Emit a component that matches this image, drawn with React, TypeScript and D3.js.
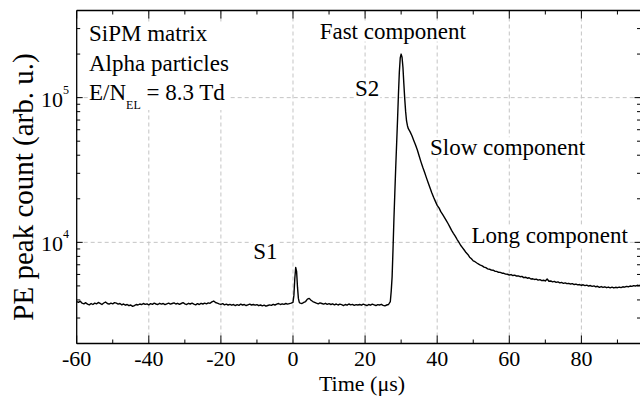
import React, { useEffect, useRef } from 'react';
import * as d3 from 'd3';

const W = 640;
const H = 403;
const FONT = "'Liberation Serif', 'Times New Roman', Times, serif";

// axis settings
const X_DOMAIN: [number, number] = [-60, 96.4];
const Y_DOMAIN: [number, number] = [2000, 400000];
const X_MAJOR = [-60, -40, -20, 0, 20, 40, 60, 80];
const X_MINOR = [-50, -30, -10, 10, 30, 50, 70, 90];
const Y_MAJOR = [10000, 100000];
const Y_MAJOR_EXP = ['4', '5'];
const Y_MINOR = [2000, 3000, 4000, 5000, 6000, 7000, 8000, 9000, 20000, 30000, 40000, 50000, 60000, 70000, 80000, 90000, 200000, 300000];

// data: [time (µs), PE peak count]
const preTrigger: [number, number][] = [
  [-60, 3900], [-59.5, 3850], [-59, 3920], [-58.5, 3800], [-58, 3760], [-57.5, 3830], [-57, 3740], [-56.5, 3700],
  [-56, 3780], [-55.5, 3720], [-55, 3800], [-54.5, 3760], [-54, 3840], [-53.5, 3790], [-53, 3720], [-52.5, 3810],
  [-52, 3870], [-51.5, 3780], [-51, 3740], [-50.5, 3800], [-50, 3760], [-49.5, 3830], [-49, 3800], [-48.5, 3740],
  [-48, 3780], [-47.5, 3700], [-47, 3750], [-46.5, 3680], [-46, 3720], [-45.5, 3650], [-45, 3690], [-44.5, 3610],
  [-44, 3660], [-43.5, 3720], [-43, 3690], [-42.5, 3750], [-42, 3710], [-41.5, 3780], [-41, 3730], [-40.5, 3760],
  [-40, 3700], [-39.5, 3770], [-39, 3730], [-38.5, 3800], [-38, 3750], [-37.5, 3720], [-37, 3790], [-36.5, 3740],
  [-36, 3780], [-35.5, 3710], [-35, 3760], [-34.5, 3800], [-34, 3740], [-33.5, 3780], [-33, 3820], [-32.5, 3750],
  [-32, 3790], [-31.5, 3730], [-31, 3780], [-30.5, 3830], [-30, 3760], [-29.5, 3720], [-29, 3790], [-28.5, 3750],
  [-28, 3800], [-27.5, 3740], [-27, 3700], [-26.5, 3770], [-26, 3720], [-25.5, 3790], [-25, 3750], [-24.5, 3800],
  [-24, 3760], [-23.5, 3820], [-23, 3790], [-22.5, 3880], [-22, 3930], [-21.5, 3840], [-21, 3800], [-20.5, 3760],
  [-20, 3730], [-19.5, 3770], [-19, 3700], [-18.5, 3740], [-18, 3690], [-17.5, 3730], [-17, 3680], [-16.5, 3720],
  [-16, 3660], [-15.5, 3710], [-15, 3670], [-14.5, 3740], [-14, 3690], [-13.5, 3720], [-13, 3660], [-12.5, 3700],
  [-12, 3740], [-11.5, 3690], [-11, 3720], [-10.5, 3680], [-10, 3710], [-9.5, 3650], [-9, 3690], [-8.5, 3640],
  [-8, 3680], [-7.5, 3620], [-7, 3660], [-6.5, 3700], [-6, 3670], [-5.5, 3730], [-5, 3690], [-4.5, 3740],
  [-4, 3780], [-3.5, 3720], [-3, 3760], [-2.5, 3730], [-2, 3780], [-1.5, 3740], [-1, 3770], [-0.5, 3800],
];

const s1Pulse: [number, number][] = [
  [0, 3850], [0.25, 4300], [0.5, 5600], [0.75, 6700], [1.0, 6300], [1.25, 4900], [1.5, 4100], [1.75, 3850],
  [2, 3800], [2.5, 3780], [3, 3850], [3.5, 3900], [4, 4050], [4.5, 4100], [5, 3980], [5.5, 3900], [6, 3850],
];

const midBaseline: [number, number][] = [
  [6.5, 3800], [7, 3760], [7.5, 3820], [8, 3780], [8.5, 3740], [9, 3790], [9.5, 3730], [10, 3770],
  [10.5, 3720], [11, 3760], [11.5, 3700], [12, 3750], [12.5, 3690], [13, 3740], [13.5, 3710], [14, 3660],
  [14.5, 3720], [15, 3680], [15.5, 3750], [16, 3700], [16.5, 3730], [17, 3670], [17.5, 3710], [18, 3690],
  [18.5, 3720], [19, 3680], [19.5, 3740], [20, 3700], [20.5, 3660], [21, 3720], [21.5, 3680], [22, 3740],
  [22.5, 3700], [23, 3660], [23.5, 3710], [24, 3690], [24.5, 3730], [25, 3670], [25.5, 3640], [26, 3690],
  [26.5, 3720],
];

const s2Pulse: [number, number][] = [
  [27, 3900], [27.25, 4600], [27.5, 5800], [27.75, 9000], [28, 14500], [28.25, 22000], [28.5, 33000],
  [28.75, 48000], [29, 70000], [29.25, 105000], [29.5, 150000], [29.75, 188000], [30, 200000], [30.25, 190000],
  [30.5, 162000], [30.75, 125000], [31, 98000], [31.25, 80000], [31.5, 69000], [31.75, 64000], [32, 61000],
  [32.5, 58000], [33, 54500], [33.5, 50500], [34, 47000], [34.5, 43500], [35, 39500], [35.5, 36000],
  [36, 33000], [36.5, 30500], [37, 28000], [37.5, 25800], [38, 23800], [38.5, 22000], [39, 20500],
  [39.5, 19200], [40, 18000],
];

const s2Tail: [number, number][] = [
  [40.5, 17300], [41, 16300], [41.5, 15600], [42, 14900], [42.5, 14200], [43, 13500], [43.5, 12800], [44, 12100],
  [44.5, 11550], [45, 11050], [45.5, 10500], [46, 10050], [46.5, 9550], [47, 9200], [47.5, 8850], [48, 8500],
  [48.5, 8250], [49, 7900], [49.5, 7700], [50, 7450], [50.5, 7350], [51, 7200], [51.5, 7080], [52, 6950],
  [52.5, 6880], [53, 6740], [53.5, 6680], [54, 6560], [54.5, 6520], [55, 6440], [55.5, 6420], [56, 6320],
  [56.5, 6300], [57, 6210], [57.5, 6200], [58, 6120], [58.5, 6110], [59, 6030], [59.5, 6020], [60, 5950],
  [60.5, 5990], [61, 5900], [61.5, 5940], [62, 5850], [62.5, 5870], [63, 5790], [63.5, 5820], [64, 5700],
  [64.5, 5740], [65, 5650], [65.5, 5690], [66, 5580], [66.5, 5600], [67, 5540], [67.5, 5570], [68, 5480],
  [68.5, 5520], [69, 5440], [69.5, 5470], [70, 5410], [70.5, 5580], [71, 5380], [71.5, 5410], [72, 5330],
  [72.5, 5370], [73, 5290], [73.5, 5330], [74, 5250], [74.5, 5280], [75, 5210], [75.5, 5250], [76, 5180],
  [76.5, 5210], [77, 5150], [77.5, 5180], [78, 5110], [78.5, 5150], [79, 5080], [79.5, 5110], [80, 5050],
  [80.5, 5090], [81, 5020], [81.5, 5060], [82, 4990], [82.5, 5030], [83, 4960], [83.5, 5000], [84, 4930],
  [84.5, 4970], [85, 4890], [85.5, 4950], [86, 4880], [86.5, 4930], [87, 4860], [87.5, 4910], [88, 4850],
  [88.5, 4900], [89, 4840], [89.5, 4890], [90, 4860], [90.5, 4910], [91, 4870], [91.5, 4930], [92, 4900],
  [92.5, 4960], [93, 4930], [93.5, 4990], [94, 4960], [94.5, 5020], [95, 4990], [95.5, 5050], [96, 5020],
  [96.5, 5070],
];

const INFO_LINES = ['SiPM matrix', 'Alpha particles'];
const FIELD_LABEL = { main: 'E/N', sub: 'EL', rest: ' = 8.3 Td' };
const PEAK_LABELS: { text: string; t: number; v: number }[] = [
  { text: 'Fast component', t: 7.4, v: 256000 },
  { text: 'S2', t: 17.2, v: 102000 },
  { text: 'Slow component', t: 38, v: 40000 },
  { text: 'Long component', t: 49.5, v: 9940 },
  { text: 'S1', t: -11, v: 7700 },
];
const X_TITLE = 'Time (\u03bcs)';
const Y_TITLE = 'PE peak count (arb. u.)';

export default function App() {
  const ref = useRef<SVGSVGElement>(null);

  useEffect(() => {
    const svg = d3.select(ref.current);
    svg.selectAll('*').remove();

    const left = 76.7, right = 640.5, top = 10.5, bottom = 343.5;
    const x = d3.scaleLinear().domain(X_DOMAIN).range([left, right]);
    const y = d3.scaleLog().domain(Y_DOMAIN).range([bottom, top]);

    svg.append('rect').attr('width', W).attr('height', H).attr('fill', '#fff');

    // grid
    const grid = svg.append('g').attr('stroke', '#c4c4c4').attr('stroke-width', 1).attr('stroke-dasharray', '4,3');
    X_MAJOR.filter((t) => t > X_DOMAIN[0]).forEach((t) => {
      grid.append('line').attr('x1', x(t)).attr('x2', x(t)).attr('y1', top).attr('y2', bottom);
    });
    Y_MAJOR.forEach((v) => {
      grid.append('line').attr('x1', left).attr('x2', right).attr('y1', y(v)).attr('y2', y(v));
    });

    // annotations with white boxes
    const ann = svg.append('g').style('font-family', FONT).attr('font-size', 23).attr('fill', '#000');
    const addBox = (node: SVGGraphicsElement, pad: number) => {
      const b = node.getBBox();
      ann.insert('rect', ':first-child')
        .attr('x', b.x - pad).attr('y', b.y + 2).attr('width', b.width + 2 * pad).attr('height', b.height - 4)
        .attr('fill', '#fff');
    };

    const block = ann.append('g');
    INFO_LINES.forEach((s, i) => {
      block.append('text').attr('x', 89).attr('y', 41 + i * 29.5).text(s);
    });
    const field = block.append('text').attr('x', 89).attr('y', 100);
    field.append('tspan').text(FIELD_LABEL.main);
    field.append('tspan').attr('font-size', 12).attr('dy', 9).text(FIELD_LABEL.sub);
    field.append('tspan').attr('dy', -9).text(FIELD_LABEL.rest);
    addBox(block.node() as SVGGraphicsElement, 1);

    PEAK_LABELS.forEach((p) => {
      const t = ann.append('text').attr('x', x(p.t)).attr('y', y(p.v)).text(p.text);
      addBox(t.node() as SVGGraphicsElement, 1);
    });

    // curve
    const series = [...preTrigger, ...s1Pulse, ...midBaseline, ...s2Pulse, ...s2Tail];
    svg.append('clipPath').attr('id', 'plotclip').append('rect')
      .attr('x', left).attr('y', top).attr('width', right - left).attr('height', bottom - top);
    const line = d3.line<[number, number]>().x((d) => x(d[0])).y((d) => y(d[1]));
    svg.append('path').datum(series).attr('d', line).attr('fill', 'none').attr('stroke', '#000')
      .attr('stroke-width', 1.4).attr('stroke-linejoin', 'round').attr('clip-path', 'url(#plotclip)');

    // axes frame (right spine sits just beyond the picture edge, as in the reference)
    const spineR = right + 1.5;
    const ax = svg.append('g').attr('stroke', '#000').attr('stroke-width', 1.3);
    ax.append('line').attr('x1', left).attr('x2', spineR).attr('y1', bottom).attr('y2', bottom);
    ax.append('line').attr('x1', left).attr('x2', spineR).attr('y1', top).attr('y2', top);
    ax.append('line').attr('x1', left).attr('x2', left).attr('y1', top).attr('y2', bottom);
    ax.append('line').attr('x1', spineR).attr('x2', spineR).attr('y1', top).attr('y2', bottom);

    const tk = svg.append('g').attr('stroke', '#000').attr('stroke-width', 1);
    const xt = (t: number, len: number) => {
      tk.append('line').attr('x1', x(t)).attr('x2', x(t)).attr('y1', bottom).attr('y2', bottom - len);
      tk.append('line').attr('x1', x(t)).attr('x2', x(t)).attr('y1', top).attr('y2', top + len);
    };
    X_MAJOR.forEach((t) => xt(t, 8));
    X_MINOR.forEach((t) => xt(t, 4));
    const yt = (v: number, len: number) => {
      tk.append('line').attr('x1', left).attr('x2', left + len).attr('y1', y(v)).attr('y2', y(v));
      tk.append('line').attr('x1', spineR).attr('x2', spineR - len - 1.5).attr('y1', y(v)).attr('y2', y(v));
    };
    Y_MAJOR.forEach((v) => yt(v, 6));
    Y_MINOR.forEach((v) => yt(v, 3.5));

    // tick labels
    const lab = svg.append('g').style('font-family', FONT).attr('fill', '#000');
    X_MAJOR.forEach((t) => {
      lab.append('text').attr('x', x(t)).attr('y', 365.5).attr('font-size', 22).attr('text-anchor', 'middle').text(String(t));
    });
    Y_MAJOR.forEach((v, i) => {
      const t = lab.append('text').attr('x', 69).attr('y', y(v) + 9).attr('font-size', 22).attr('text-anchor', 'end');
      t.append('tspan').text('10');
      t.append('tspan').attr('font-size', 12).attr('dy', -13).text(Y_MAJOR_EXP[i]);
    });

    // titles
    lab.append('text').attr('x', 362).attr('y', 390.5).attr('font-size', 22).attr('text-anchor', 'middle').text(X_TITLE);
    lab.append('text').attr('transform', 'translate(33,187) rotate(-90)').attr('font-size', 29)
      .attr('text-anchor', 'middle').text(Y_TITLE);
  }, []);

  return (
    <svg ref={ref} width={W} height={H} style={{ position: 'absolute', left: 0, top: 0, fontFamily: FONT }} />
  );
}
